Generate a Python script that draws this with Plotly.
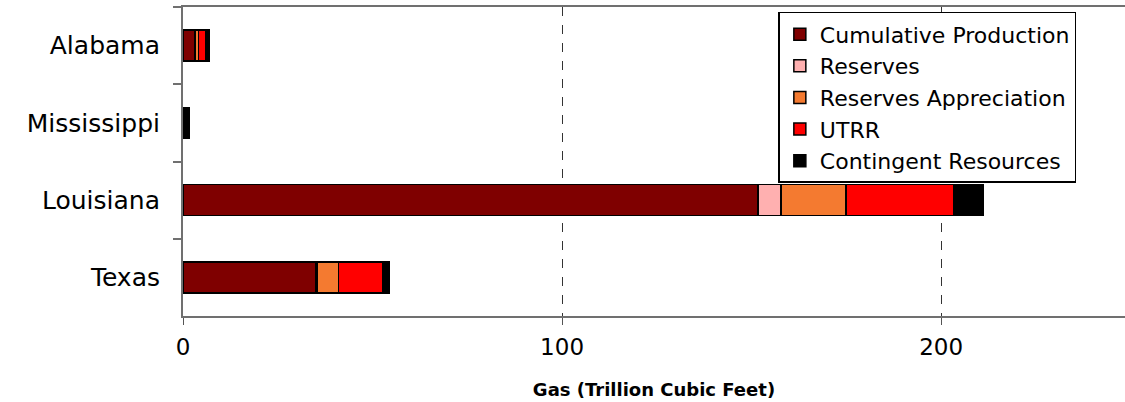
import plotly.graph_objects as go

states = ["Alabama", "Mississippi", "Louisiana", "Texas"]
cumulative_production = [3.1, 0.3, 151.7, 35.1]
reserves = [0.2, 0.05, 6.1, 0.4]
reserves_appreciation = [0.8, 0.05, 17.1, 5.5]
utrr = [2.0, 0.1, 28.3, 11.6]
contingent_resources = [0.8, 1.1, 7.9, 1.9]

series_names = ["Cumulative Production", "Reserves", "Reserves Appreciation", "UTRR", "Contingent Resources"]
series_values = [cumulative_production, reserves, reserves_appreciation, utrr, contingent_resources]
series_colors = ["#7f0000", "#ffb0b0", "#f47a30", "#ff0000", "#000000"]

fig = go.Figure()
for name, vals, col in zip(series_names, series_values, series_colors):
    fig.add_trace(go.Bar(
        y=states, x=vals, name=name, orientation="h",
        marker=dict(color=col, line=dict(color="#000000", width=1.5)),
    ))

FONT = "DejaVu Sans"
fig.update_layout(
    width=1125, height=402,
    margin=dict(l=183, r=0, t=7, b=86),
    barmode="stack", bargap=0.6,
    plot_bgcolor="white", paper_bgcolor="white",
    font=dict(family=FONT, color="#000000"),
    showlegend=True,
    legend=dict(
        x=0.632, y=0.984, xanchor="left", yanchor="top",
        traceorder="normal",
        font=dict(family=FONT, size=22, color="#000000"),
        bgcolor="white", bordercolor="#000000", borderwidth=1.5,
        tracegroupgap=0,
        entrywidth=296, entrywidthmode="pixels",
    ),
    xaxis=dict(
        range=[0, 248.5], tickvals=[0, 100, 200], ticktext=["0", "100", "200"],
        showgrid=True, gridcolor="#333333", griddash="dash", gridwidth=1,
        zeroline=False,
        showline=True, linecolor="#707070", linewidth=2, mirror=True,
        ticks="outside", ticklen=7, tickcolor="#555555", tickwidth=1,
        tickfont=dict(family=FONT, size=23, color="#000000"),
        ticklabelstandoff=2,
        title=dict(text="<b>Gas (Trillion Cubic Feet)</b>",
                   font=dict(family=FONT, size=18, color="#000000"), standoff=25),
        fixedrange=True,
    ),
    yaxis=dict(
        type="category", categoryorder="array", categoryarray=states,
        autorange="reversed",
        showgrid=False, zeroline=False,
        showline=True, linecolor="#707070", linewidth=2,
        ticks="outside", ticklen=8, tickcolor="#707070", tickwidth=2,
        tickson="boundaries",
        tickfont=dict(family=FONT, size=25, color="#000000"),
        ticklabelstandoff=16,
        fixedrange=True,
    ),
)

fig.write_html(
    "out.html",
    config={"displayModeBar": False},
    post_script="document.body.style.margin='0';document.body.style.overflow='hidden';",
)
